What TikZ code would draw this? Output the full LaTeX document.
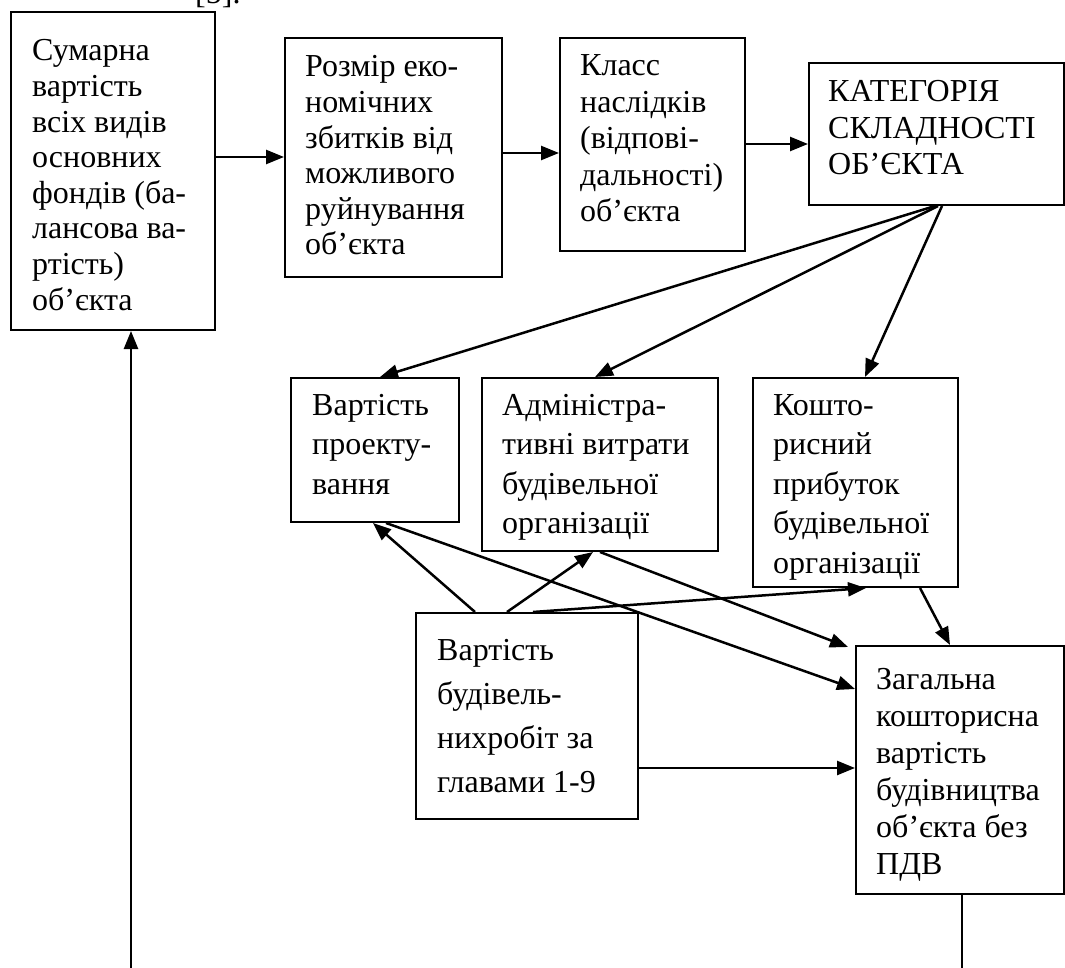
\documentclass[tikz,border=0pt]{standalone}
\usepackage{fontspec}
\setmainfont{Liberation Serif}
\usetikzlibrary{arrows.meta}
\newcommand\tx[1]{\parbox[t]{300pt}{\raggedright #1}}
\tikzset{
  boxn/.style={draw, line width=2pt, anchor=north west, inner sep=0pt},
  txt/.style={anchor=base west, inner sep=0pt, font=\fontsize{32}{36.5}\selectfont},
  txa/.style={txt, font=\fontsize{32}{35.6}\selectfont},
  txb/.style={txt, font=\fontsize{32}{39.5}\selectfont},
  arr/.style={line width=2.5pt, -{Triangle[length=18pt,width=14pt]}},
  ln/.style={line width=2.5pt}
}
\begin{document}
\begin{tikzpicture}[x=1pt,y=-1pt]
\useasboundingbox (0,0) rectangle (1065,968);
% clipped line of text above
\node[txt] (top) at (195,4) {[5].};
% boxes
\node[boxn, minimum width=204pt, minimum height=318pt] (b1) at (10,11) {};
\node[boxn, minimum width=217pt, minimum height=239pt] (b2) at (284,37) {};
\node[boxn, minimum width=185pt, minimum height=213pt] (b3) at (559,37) {};
\node[boxn, minimum width=255pt, minimum height=142pt] (b4) at (808,62) {};
\node[boxn, minimum width=168pt, minimum height=144pt] (b5) at (290,377) {};
\node[boxn, minimum width=236pt, minimum height=173pt] (b6) at (481,377) {};
\node[boxn, minimum width=205pt, minimum height=209pt] (b7) at (752,377) {};
\node[boxn, minimum width=222pt, minimum height=206pt] (b8) at (415,612) {};
\node[boxn, minimum width=208pt, minimum height=248pt] (b9) at (855,645) {};
% texts
\node[txa] (t1) at (32,61) {\tx{Сумарна\\вартість\\всіх видів\\основних\\фондів (ба-\\лансова ва-\\ртість)\\об’єкта}};
\node[txa] (t2) at (305,77) {\tx{Розмір еко-\\номічних\\збитків від\\можливого\\руйнування\\об’єкта}};
\node[txt] (t3) at (580,76) {\tx{Класс\\наслідків\\(відпові-\\дальності)\\об’єкта}};
\node[txt] (t4) at (828,102) {\tx{КАТЕГОРІЯ\\СКЛАДНОСТІ\\ОБ’ЄКТА}};
\node[txb] (t5) at (312,415) {\tx{Вартість\\проекту-\\вання}};
\node[txb] (t6) at (502,415) {\tx{Адміністра-\\тивні витрати\\будівельної\\організації}};
\node[txb] (t7) at (773,415) {\tx{Кошто-\\рисний\\прибуток\\будівельної\\організації}};
\node[txt, font=\fontsize{32}{44}\selectfont] (t8) at (437,660) {\tx{Вартість\\будівель-\\нихробіт за\\главами 1-9}};
\node[txt, font=\fontsize{32}{37}\selectfont] (t9) at (876,689) {\tx{Загальна\\кошторисна\\вартість\\будівництва\\об’єкта без\\ПДВ}};
% top row arrows
\draw[arr] (b1.east |- 0,157) -- (b2.west |- 0,157);
\draw[arr] (b2.east |- 0,153) -- (b3.west |- 0,153);
\draw[arr] (b3.east |- 0,144) -- (b4.west |- 0,144);
% from category
\coordinate (c4a) at (935,206);
\coordinate (c4b) at (938,206);
\coordinate (c4c) at (942,206);
\draw[arr] (c4a) -- (b5.north -| 380,0);
\draw[arr] (c4b) -- (b6.north -| 595,0);
\draw[arr] (c4c) -- (b7.north -| 865,0);
% from b8 upward
\draw[arr] (b8.north -| 475,0) -- (b5.south -| 373,0);
\draw[arr] (b8.north -| 507,0) -- (b6.south -| 593,0);
\draw[arr] (b8.north -| 533,0) -- (b7.south -| 866,0);
% into b9
\draw[arr] (b5.south -| 386,0) -- (b9.west |- 0,689);
\draw[arr] (b6.south -| 600,0) -- (848,647);
\draw[arr] (b7.south -| 920,0) -- (b9.north -| 950,0);
\draw[arr] (b8.east |- 0,768) -- (b9.west |- 0,768);
% bottom lines
\coordinate (e9) at (962,968);
\coordinate (e1) at (131,968);
\draw[ln] (b9.south -| e9) -- (e9);
\draw[arr] (e1) -- (b1.south -| e1);
\end{tikzpicture}
\end{document}
